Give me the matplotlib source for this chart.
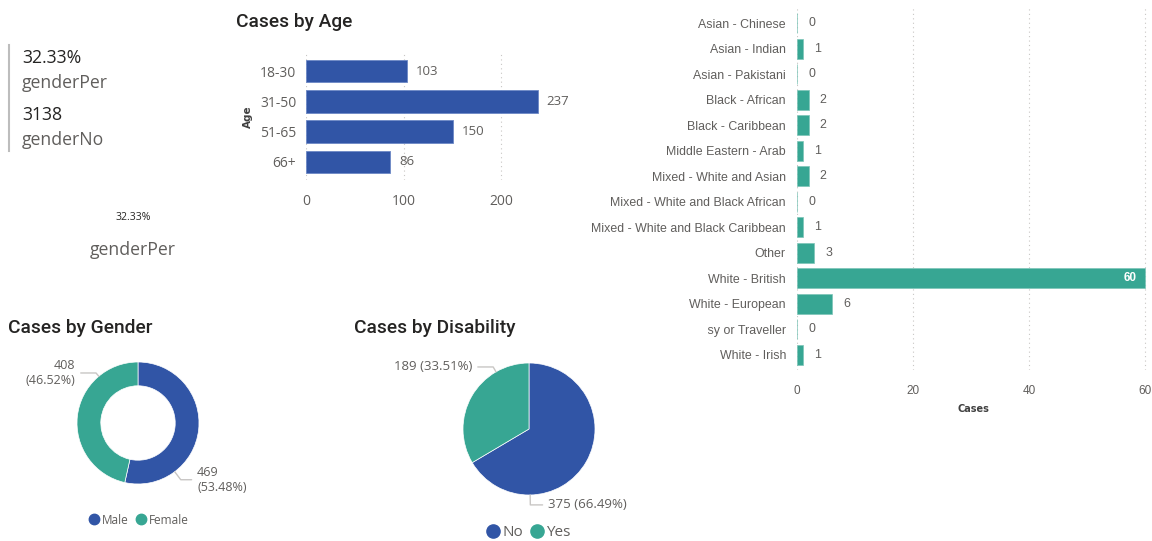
import matplotlib.pyplot as plt
from matplotlib.lines import Line2D
from matplotlib.transforms import Bbox, TransformedBbox
import numpy as np

# ---- data ----
card_per = "32.33%"
card_no = "3138"
card_name_per = "genderPer"
card_name_no = "genderNo"

age_groups = ["18-30", "31-50", "51-65", "66+"]
age_cases = [103, 237, 150, 86]

ethnicities = ["Asian - Chinese", "Asian - Indian", "Asian - Pakistani",
               "Black - African", "Black - Caribbean", "Middle Eastern - Arab",
               "Mixed - White and Asian", "Mixed - White and Black African",
               "Mixed - White and Black Caribbean", "Other", "White - British",
               "White - European", "White - Gypsy or Traveller", "White - Irish"]
eth_cases = [0, 1, 0, 2, 2, 1, 2, 0, 1, 3, 60, 6, 0, 1]

gender_labels = ["Male", "Female"]
gender_cases = [469, 408]

disab_labels = ["No", "Yes"]
disab_cases = [375, 189]

# ---- style ----
BLUE = "#3155A6"
TEAL = "#37A693"
GREY = "#605E5C"
DARK = "#252423"
LEAD = "#C8C6C4"
TITLE_FONT = ["Roboto", "DejaVu Sans"]
BODY_FONT = ["Open Sans", "DejaVu Sans"]

W, H = 1152, 541
fig = plt.figure(figsize=(W / 100, H / 100), dpi=100, facecolor="white")


def ax_px(x, y, w, h):
    return fig.add_axes([x / W, 1 - (y + h) / H, w / W, h / H])


def px(x, y):
    return x / W, 1 - y / H


# ---- cards ----
fig.add_artist(Line2D([9 / W, 9 / W], [1 - 45 / H, 1 - 151 / H], color="#BDBDBD", lw=1.5))
fig.text(*px(22, 58), card_per, fontsize=12.7, color=DARK, family=BODY_FONT, va="center")
fig.text(*px(22, 83), card_name_per, fontsize=12.7, color=GREY, family=BODY_FONT, va="center")
fig.text(*px(22, 115), card_no, fontsize=12.7, color=DARK, family=BODY_FONT, va="center")
fig.text(*px(22, 140), card_name_no, fontsize=12.7, color=GREY, family=BODY_FONT, va="center")
fig.text(*px(133, 218), card_per, fontsize=7.5, color=DARK, family=BODY_FONT, ha="center", va="center")
fig.text(*px(133, 250), card_name_per, fontsize=12.7, color=GREY, family=BODY_FONT, ha="center", va="center")

# ---- cases by age ----
fig.text(*px(236, 22), "Cases by Age", fontsize=13.8, color=DARK, family=TITLE_FONT,
         weight="medium", va="center")
ax = ax_px(306, 53, 254, 127)
y = np.arange(len(age_groups))
bars = ax.barh(y, age_cases, height=0.75, color=BLUE, edgecolor="#6C88C6", linewidth=0.6)
ax.set_ylim(len(age_groups) - 0.4, -0.6)
ax.set_xlim(0, 260)
ax.set_yticks(y, age_groups)
ax.set_xticks([0, 100, 200])
ax.tick_params(length=0, labelsize=10, labelcolor=GREY, pad=7)
ax.tick_params(axis="x", pad=10)
for lab in ax.get_xticklabels() + ax.get_yticklabels():
    lab.set_family(BODY_FONT)
ax.set_ylabel("Age", fontsize=7.5, color="#404040", weight="bold", labelpad=5)
ax.bar_label(bars, padding=6.5, fontsize=9.5, color=GREY, family=BODY_FONT)
ax.grid(axis="x", linestyle=(0, (1, 3)), color="#C8C6C4", lw=0.8)
ax.set_axisbelow(True)
for s in ax.spines.values():
    s.set_visible(False)

# ---- cases by ethnicity ----
ax2 = ax_px(797, 8, 353, 362)
y2 = np.arange(len(ethnicities))
bars2 = ax2.barh(y2, eth_cases, height=0.78, color=TEAL, edgecolor="#7CC4B7", linewidth=0.5)
ax2.set_ylim(len(ethnicities) - 0.4, -0.6)
ax2.set_xlim(0, 60.8)
ax2.set_yticks(y2, ethnicities)
ax2.set_xticks([0, 20, 40, 60])
ax2.tick_params(axis="y", length=0, labelsize=8.9, labelcolor=GREY, pad=8)
ax2.tick_params(axis="x", length=0, labelsize=8.5, labelcolor=GREY, pad=11)
for lab in ax2.get_xticklabels() + ax2.get_yticklabels():
    lab.set_family(["Liberation Sans", "DejaVu Sans"])
ax2.set_xlabel("Cases", fontsize=7, color="#404040", weight="bold", labelpad=5)
ax2.grid(axis="x", linestyle=(0, (1, 3)), color="#C8C6C4", lw=0.8)
ax2.set_axisbelow(True)
for s in ax2.spines.values():
    s.set_visible(False)
vmax = max(eth_cases)
for b, v in zip(bars2, eth_cases):
    cy = b.get_y() + b.get_height() / 2
    if v == vmax:
        ax2.text(v - 1.5, cy, str(v), ha="right", va="center", fontsize=8.5,
                 color="white", weight="bold", family=["Liberation Sans"])
    else:
        ax2.annotate(str(v), (v, cy), xytext=(8, 0), textcoords="offset points",
                     ha="left", va="center", fontsize=8.9, color=GREY,
                     family=["Liberation Sans"])
# the Gypsy/Traveller label is cut off at the left in the original
clip = TransformedBbox(Bbox([[708 / W, 0], [1, 1]]), fig.transFigure)
lab = ax2.get_yticklabels()[ethnicities.index("White - Gypsy or Traveller")]
lab.set_clip_box(clip)
lab.set_clip_on(True)

# ---- cases by gender (donut) ----
fig.text(*px(8, 328), "Cases by Gender", fontsize=13.8, color=DARK, family=TITLE_FONT,
         weight="medium", va="center")
ax3 = ax_px(77, 362, 122, 122)
g_tot = sum(gender_cases)
ax3.pie(gender_cases, colors=[BLUE, TEAL], startangle=90, counterclock=False,
        radius=1, wedgeprops=dict(width=0.39, edgecolor="white", linewidth=0.5))
ax3.set_xlim(-1, 1)
ax3.set_ylim(-1, 1)
g_pos = [(-53, 0.97, -0.93, "left"), (130, -1.03, 0.82, "right")]
for v, (ang, tx, ty, ha) in zip(gender_cases, g_pos):
    a = np.deg2rad(ang)
    ax3.annotate(f"{v}\n({v / g_tot * 100:.2f}%)", (np.cos(a), np.sin(a)), xytext=(tx, ty),
                 ha=ha, va="center", fontsize=9, color=GREY, family=BODY_FONT,
                 linespacing=1.2, annotation_clip=False,
                 arrowprops=dict(arrowstyle="-", color=LEAD, lw=1, shrinkA=2, shrinkB=0,
                                 connectionstyle=f"angle,angleA=0,angleB={ang}"))
g_handles = [Line2D([], [], marker="o", ls="", color=c, markersize=7.5) for c in [BLUE, TEAL]]
fig.legend(g_handles, gender_labels, loc="center", bbox_to_anchor=px(139, 520), ncol=2,
           frameon=False, handlelength=0.8, handletextpad=0.25, columnspacing=0.6,
           labelcolor=GREY, prop=dict(family=BODY_FONT, size=8.5))

# ---- cases by disability (pie) ----
fig.text(*px(354, 328), "Cases by Disability", fontsize=13.8, color=DARK, family=TITLE_FONT,
         weight="medium", va="center")
ax4 = ax_px(463, 363, 132, 132)
d_tot = sum(disab_cases)
ax4.pie(disab_cases, colors=[BLUE, TEAL], startangle=90, counterclock=False,
        radius=1, wedgeprops=dict(edgecolor="white", linewidth=0.5))
ax4.set_xlim(-1, 1)
ax4.set_ylim(-1, 1)
d_pos = [(-89, 0.29, -1.15, "left"), (120, -0.86, 0.94, "right")]
for v, (ang, tx, ty, ha) in zip(disab_cases, d_pos):
    a = np.deg2rad(ang)
    ax4.annotate(f"{v} ({v / d_tot * 100:.2f}%)", (np.cos(a), np.sin(a)), xytext=(tx, ty),
                 ha=ha, va="center", fontsize=9.5, color=GREY, family=BODY_FONT,
                 annotation_clip=False,
                 arrowprops=dict(arrowstyle="-", color=LEAD, lw=1, shrinkA=2, shrinkB=0,
                                 connectionstyle=f"angle,angleA=0,angleB={ang}"))
d_handles = [Line2D([], [], marker="o", ls="", color=c, markersize=9.5) for c in [BLUE, TEAL]]
fig.legend(d_handles, disab_labels, loc="center", bbox_to_anchor=px(529, 533), ncol=2,
           frameon=False, handlelength=0.8, handletextpad=0.2, columnspacing=0.5,
           labelcolor=GREY, prop=dict(family=BODY_FONT, size=11))

fig.savefig("out.png", dpi=100, facecolor="white")
